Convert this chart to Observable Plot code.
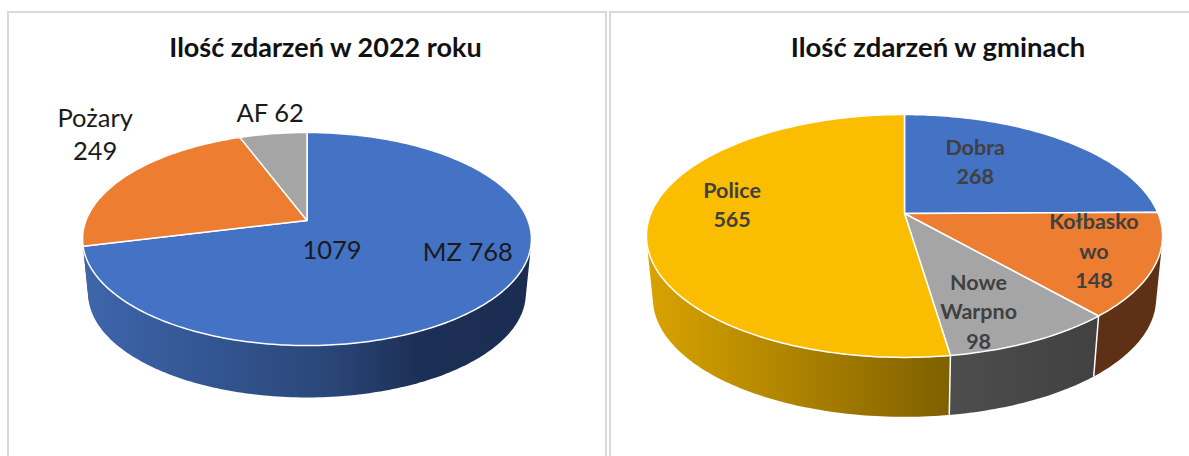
<!DOCTYPE html>
<html><head><meta charset="utf-8">
<script src="https://cdn.jsdelivr.net/npm/d3@7"></script>
<script src="https://cdn.jsdelivr.net/npm/@observablehq/plot@0.6"></script>
<style>html,body{margin:0;padding:0;background:#fff}svg{display:block}</style>
</head><body><div id="chart"></div>
<script>
// Data
const leftTitle = "Ilość zdarzeń w 2022 roku";
const leftCategories = ["MZ", "Pożary", "AF"];
const leftValues = [768, 249, 62];
const leftSeparators = [" ", "\n", " "];
const rightTitle = "Ilość zdarzeń w gminach";
const rightCategories = ["Dobra", "Kołbasko\nwo", "Nowe\nWarpno", "Police"];
const rightValues = [268, 148, 98, 565];
const rightSeparators = ["\n", "\n", "\n", "\n"];

// Style and layout
const leftTop = ["#4472c4", "#ed7d31", "#a5a5a5"];
const leftWall = ["url(#gBlue)", "#5e3015", "#404040"];
const rightTop = ["#4472c4", "#ed7d31", "#a5a5a5", "#fbbd00"];
const rightWall = ["#1c2f56", "#5e3015", "url(#gGray)", "url(#gGold)"];
const leftPie = {cx: 306.5, cy: 220, A: 221, B: 103.3, p: 0.174, depth: 55, shrink: 0.975};
const rightPie = {cx: 904, cy: 213, A: 253.6, B: 117.3, p: 0.185, depth: 63, shrink: 0.975};
const leftOffsets = [[-34, -42], [-31, -43], [-3, -22]];
const rightOffsets = [[-87, 20], [-61, -16], [-54, -31.5], [84, -19]];
const totalOffset = [25, 30];
const leftTitleCenter = 325, rightTitleCenter = 937.5, titleY = 48;

const rad = d => d * Math.PI / 180;
function project(g, deg, r = 1, floor = false) {
  const X = r * Math.sin(rad(deg)), Y = -r * Math.cos(rad(deg));
  const w = 1 - g.p * Y;
  const k = floor ? g.shrink : 1;
  return [g.cx + k * g.A * X / w, g.cy + (floor ? g.depth : 0) + k * g.B * Y / w];
}
function buildPie(g, cats, vals, seps, tops, walls, offsets) {
  const total = d3.sum(vals);
  let acc = 0;
  const slices = vals.map((v, i) => {
    const a0 = acc / total * 360; acc += v; const a1 = acc / total * 360;
    return {i, v, a0, a1, mid: (a0 + a1) / 2, top: tops[i], wall: walls[i],
      label: cats[i] + seps[i] + v, off: offsets[i]};
  });
  const arc = s => { const n = Math.max(2, Math.ceil(s.a1 - s.a0)); return d3.range(n + 1).map(k => s.a0 + (s.a1 - s.a0) * k / n); };
  const marks = [];
  // walls: the hull of both rims is the swept side surface; the top face hides its back part
  [...slices].sort((a, b) => Math.cos(rad(b.mid)) - Math.cos(rad(a.mid))).forEach(s => {
    const a = arc(s);
    const pts = d3.polygonHull([...a.map(d => project(g, d)), ...a.map(d => project(g, d, 1, true))]);
    marks.push(Plot.line(pts, {x: d => d[0], y: d => d[1], fill: s.wall, stroke: "none", curve: "linear-closed"}));
  });
  // seams only where a slice boundary lies on the visible front of the wall
  const seams = slices.map(s => s.a1).filter(d => -Math.cos(rad(d)) > 0.3).map(d => ({t: project(g, d), b: project(g, d, 1, true)}));
  marks.push(Plot.link(seams, {x1: d => d.t[0], y1: d => d.t[1], x2: d => d.b[0], y2: d => d.b[1], stroke: "#fff", strokeWidth: 1.5}));
  // top faces
  slices.forEach(s => {
    const pts = [project(g, 0, 0), ...arc(s).map(d => project(g, d))];
    marks.push(Plot.line(pts, {x: d => d[0], y: d => d[1], fill: s.top, stroke: "#fff", strokeWidth: 1.5, curve: "linear-closed", strokeLinejoin: "round"}));
  });
  const labels = slices.map(s => {
    const p = project(g, s.mid);
    return {x: p[0] + s.off[0], y: p[1] + s.off[1], label: s.label};
  });
  return {marks, labels, total};
}

const L = buildPie(leftPie, leftCategories, leftValues, leftSeparators, leftTop, leftWall, leftOffsets);
const R = buildPie(rightPie, rightCategories, rightValues, rightSeparators, rightTop, rightWall, rightOffsets);

const defs = () => {
  const d = d3.create("svg:defs");
  const grad = (id, stops) => {
    const g = d.append("linearGradient").attr("id", id).attr("x1", 0).attr("x2", 1).attr("y1", 0).attr("y2", 0);
    stops.forEach(([o, c]) => g.append("stop").attr("offset", o).attr("stop-color", c));
  };
  grad("gBlue", [[0, "#3f66ab"], [0.25, "#345795"], [0.55, "#2a4678"], [0.75, "#1c2f56"], [1, "#1a2c50"]]);
  grad("gGold", [[0, "#d9a300"], [1, "#7f6000"]]);
  grad("gGray", [[0, "#4d4d4d"], [1, "#414141"]]);
  return d.node();
};

const panels = [
  {x1: 8, x2: 606, y1: 12, y2: 470},
  {x1: 610, x2: 1200, y1: 12, y2: 470}
];

const chart = Plot.plot({
  width: 1189, height: 456,
  margin: 0,
  style: {background: "#fff", fontFamily: "Lato, 'Open Sans', sans-serif"},
  x: {domain: [0, 1189], range: [0, 1189], axis: null},
  y: {domain: [0, 456], range: [0, 456], axis: null},
  marks: [
    defs,
    Plot.rect(panels, {x1: "x1", x2: "x2", y1: "y1", y2: "y2", fill: "#fff", stroke: "#d9d9d9", strokeWidth: 2}),
    ...L.marks,
    ...R.marks,
    Plot.text(L.labels, {x: "x", y: "y", text: "label", fontSize: 25.5, fill: "#1a1a1a", lineHeight: 1.3}),
    Plot.text([L.total], {x: leftPie.cx + totalOffset[0], y: leftPie.cy + totalOffset[1], text: d => `${d}`, fontSize: 25.5, fill: "#1a1a1a"}),
    Plot.text(R.labels, {x: "x", y: "y", text: "label", fontSize: 21.5, fontWeight: 700, fill: "#404040", lineHeight: 1.37}),
    Plot.text([leftTitle], {x: leftTitleCenter, y: titleY, text: d => d, fontSize: 27, fontWeight: 700, fill: "#111"}),
    Plot.text([rightTitle], {x: rightTitleCenter, y: titleY, text: d => d, fontSize: 27.5, fontWeight: 700, fill: "#111"})
  ]
});
document.getElementById("chart").append(chart);
</script>
</body></html>
